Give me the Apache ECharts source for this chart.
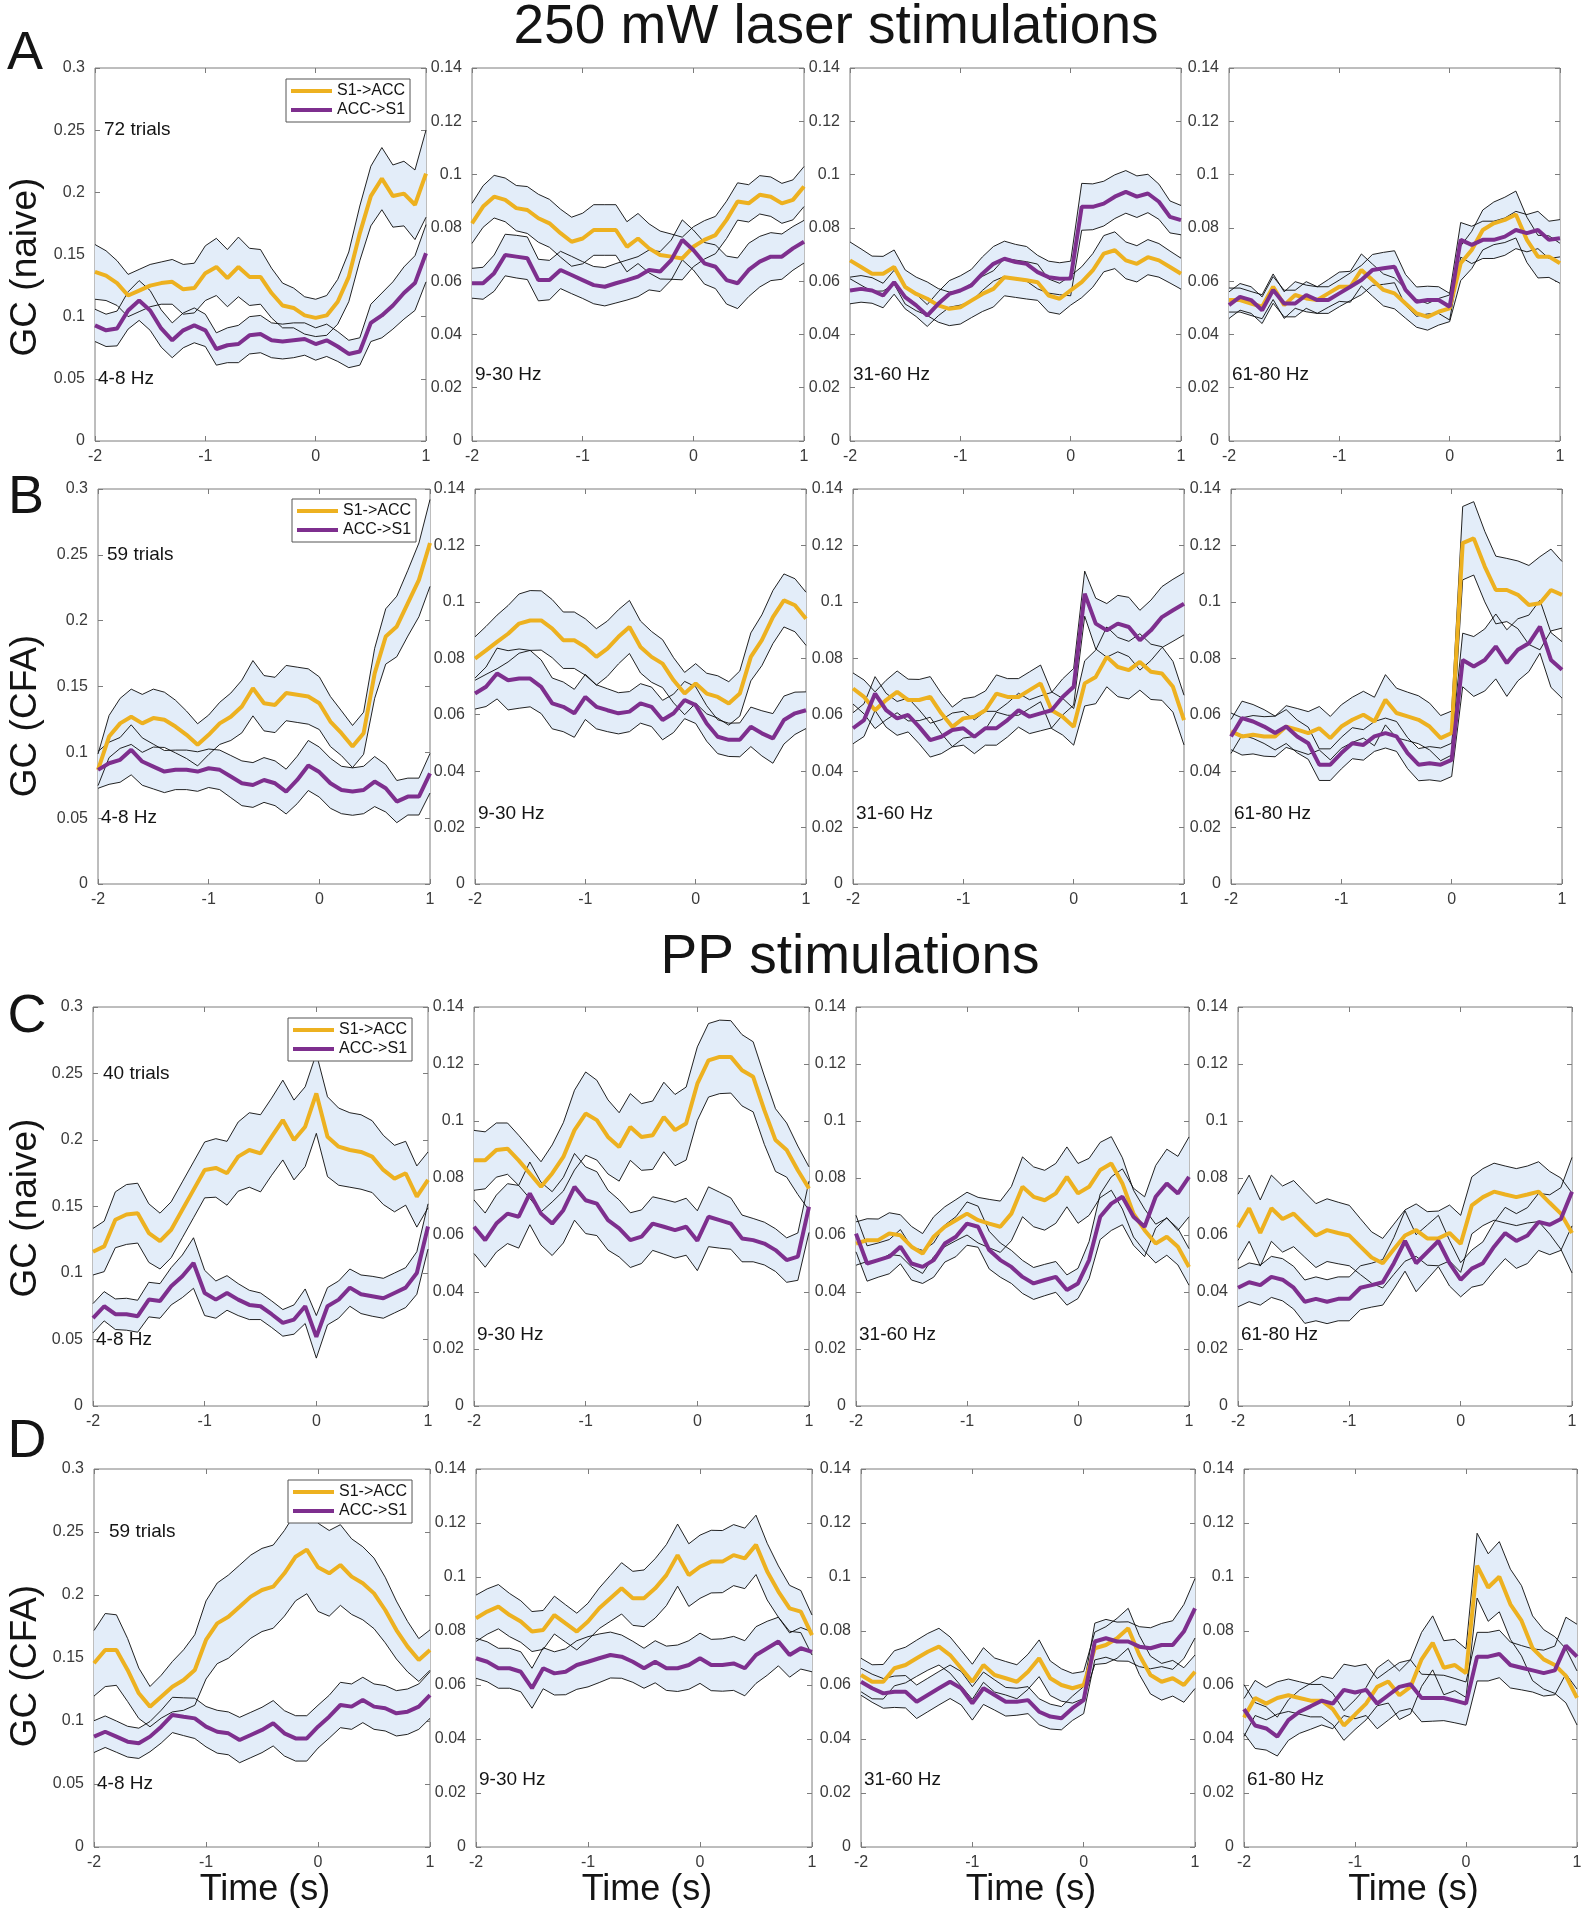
<!DOCTYPE html>
<html>
<head>
<meta charset="utf-8">
<script src="https://cdn.jsdelivr.net/npm/echarts@6/dist/echarts.min.js"></script>
<style>
  html, body { margin: 0; padding: 0; background: #fff; }
  #chart { width: 1588px; height: 1920px; }
  #err { position: absolute; left: 10px; top: 10px; font: 14px monospace; color: red; white-space: pre-wrap; width: 1500px; }
</style>
</head>
<body>
<div id="chart"></div>
<div id="err"></div>
<script>
// time axis (s)
var times = [-2,-1.9,-1.8,-1.7,-1.6,-1.5,-1.4,-1.3,-1.2,-1.1,-1,-0.9,-0.8,-0.7,-0.6,-0.5,-0.4,-0.3,-0.2,-0.1,0,0.1,0.2,0.3,0.4,0.5,0.6,0.7,0.8,0.9,1];

// ---- A: 250 mW laser, naive ----
var a1S1 = [0.136,0.133,0.127,0.117,0.121,0.125,0.127,0.128,0.122,0.123,0.135,0.140,0.131,0.140,0.132,0.132,0.119,0.109,0.107,0.101,0.099,0.101,0.112,0.132,0.167,0.197,0.211,0.197,0.199,0.190,0.215];
var a1S1Sem = [.022,.020,.018,.017,.017,.017,.017,.018,.020,.020,.022,.023,.023,.024,.023,.022,.020,.018,.016,.015,.015,.016,.018,.020,.022,.024,.025,.025,.026,.028,.035];
var a1Acc = [0.093,0.089,0.0905,0.105,0.113,0.105,0.0905,0.081,0.089,0.093,0.089,0.074,0.077,0.078,0.085,0.086,0.081,0.080,0.081,0.082,0.078,0.081,0.076,0.070,0.072,0.095,0.101,0.109,0.119,0.127,0.151];
var a1AccSem = [.013,.013,.014,.015,.016,.016,.015,.014,.014,.014,.013,.013,.014,.015,.015,.015,.014,.014,.014,.013,.013,.013,.012,.011,.011,.015,.018,.019,.021,.022,.023];

var a2S1 = [0.0817,0.088,0.0917,0.0905,0.0874,0.0867,0.0836,0.0817,0.078,0.0748,0.076,0.0792,0.0792,0.0792,0.0729,0.076,0.0723,0.0698,0.0692,0.0685,0.0729,0.0755,0.0773,0.083,0.0899,0.0892,0.0924,0.0917,0.0892,0.0905,0.0955];
var a2S1Sem = [.0075,.0078,.008,.0082,.0085,.0088,.009,.009,.009,.0092,.0095,.0095,.0095,.0095,.0094,.0094,.0092,.009,.0085,.008,.0075,.0072,.007,.007,.007,.007,.0072,.0074,.0075,.0075,.0075];
var a2Acc = [0.0592,0.0592,0.063,0.0698,0.0692,0.0686,0.0604,0.0604,0.0642,0.0623,0.0604,0.0585,0.0579,0.0592,0.0604,0.0617,0.0642,0.0636,0.0679,0.0755,0.0717,0.0667,0.0654,0.0604,0.0592,0.0642,0.0673,0.0692,0.0692,0.0723,0.0748];
var a2AccSem = [.0056,.006,.0068,.0078,.008,.008,.0078,.0074,.007,.007,.0069,.007,.0072,.0074,.0075,.0075,.0075,.0075,.0075,.0075,.0075,.0078,.0082,.009,.0095,.01,.0095,.009,.0085,.0082,.008];

var a3S1 = [0.0678,0.0653,0.0628,0.0628,0.0653,0.0578,0.0552,0.0534,0.0509,0.0496,0.0502,0.0527,0.0552,0.0571,0.0615,0.0609,0.0603,0.0596,0.0546,0.0534,0.0565,0.0596,0.064,0.0703,0.0716,0.0678,0.0665,0.069,0.0678,0.0653,0.0628];
var a3S1Sem = [.0069,.0068,.0066,.0065,.0064,.0064,.0063,.0063,.0063,.0063,.0063,.0064,.0066,.0068,.007,.007,.007,.0068,.0062,.0058,.0055,.0058,.0063,.0068,.0069,.0069,.0068,.0066,.0063,.006,.0058];
var a3Acc = [0.0565,0.0571,0.0565,0.0546,0.0596,0.054,0.0509,0.0471,0.0515,0.0552,0.0565,0.0584,0.0628,0.0665,0.0684,0.0672,0.0665,0.0634,0.0615,0.0609,0.061,0.0879,0.0879,0.0891,0.0917,0.0935,0.0917,0.0929,0.0898,0.0841,0.0829];
var a3AccSem = [.005,.005,.0048,.0046,.0045,.0044,.0042,.0041,.0045,.005,.0055,.006,.0063,.0065,.0066,.0066,.0065,.0063,.006,.006,.0065,.0088,.0086,.0084,.0082,.008,.0078,.0072,.0066,.006,.0055];

var a4S1 = [0.0529,0.0529,0.0516,0.0504,0.0579,0.051,0.0548,0.0535,0.0529,0.0554,0.0579,0.0579,0.0642,0.0604,0.0567,0.0554,0.0516,0.0479,0.0466,0.0485,0.0498,0.0667,0.0717,0.0792,0.0817,0.083,0.085,0.0755,0.0692,0.0692,0.0667];
var a4S1Sem = [.0045,.0045,.0045,.0045,.0048,.005,.005,.005,.005,.0052,.0055,.0058,.006,.006,.006,.0058,.0055,.0052,.005,.005,.005,.0065,.007,.0075,.008,.0085,.0088,.0085,.008,.0078,.0075];
var a4Acc = [0.051,0.0541,0.0529,0.0491,0.0567,0.0516,0.0516,0.0548,0.0529,0.0529,0.0554,0.0579,0.0604,0.0642,0.0648,0.0654,0.0567,0.0523,0.0529,0.0529,0.0504,0.0755,0.0736,0.0755,0.0755,0.0767,0.0792,0.078,0.0792,0.0755,0.0761];
var a4AccSem = [.005,.005,.005,.005,.005,.005,.005,.005,.005,.005,.005,.0052,.0055,.0058,.006,.006,.0058,.0055,.0052,.005,.005,.0065,.007,.007,.007,.007,.007,.007,.007,.007,.007];

// ---- B: 250 mW laser, CFA ----
var b1S1 = [0.0867,0.112,0.122,0.127,0.122,0.126,0.1247,0.1196,0.1133,0.1057,0.1133,0.122,0.127,0.1348,0.1487,0.1373,0.136,0.145,0.1437,0.1424,0.1373,0.1234,0.1145,0.1044,0.1145,0.160,0.188,0.1956,0.2133,0.231,0.259];
var b1S1Sem = [.012,.016,.019,.021,.022,.022,.021,.02,.018,.016,.015,.016,.018,.02,.021,.021,.021,.021,.021,.021,.02,.019,.017,.016,.016,.019,.021,.023,.025,.028,.033];
var b1Acc = [0.0867,0.0917,0.0943,0.1019,0.093,0.0892,0.0854,0.0867,0.0867,0.0854,0.0879,0.0867,0.0816,0.0765,0.0752,0.079,0.0765,0.0702,0.079,0.090,0.085,0.0765,0.0714,0.0702,0.0714,0.0778,0.0727,0.0626,0.0664,0.0664,0.0841];
var b1AccSem = [.014,.016,.017,.019,.018,.017,.016,.015,.015,.015,.0146,.015,.016,.017,.017,.017,.017,.017,.018,.019,.019,.019,.018,.018,.018,.019,.018,.016,.014,.014,.015];

var b2S1 = [0.0799,0.0828,0.0858,0.0887,0.0923,0.0934,0.0934,0.0905,0.0864,0.0864,0.084,0.0805,0.0834,0.0876,0.0911,0.084,0.0805,0.0781,0.0722,0.0675,0.0711,0.0675,0.0663,0.064,0.0675,0.0805,0.0864,0.0946,0.1005,0.0988,0.094];
var b2S1Sem = [.0077,.0085,.0095,.01,.0105,.0106,.0105,.0103,.01,.01,.01,.01,.0098,.0096,.0094,.0092,.009,.0085,.008,.0075,.007,.0072,.0075,.0077,.008,.0085,.009,.0094,.0094,.0094,.0094];
var b2Acc = [0.0675,0.0699,0.0746,0.0722,0.0728,0.0728,0.0699,0.064,0.0628,0.0605,0.0663,0.0628,0.0616,0.0605,0.0611,0.064,0.0628,0.0581,0.0605,0.0652,0.0634,0.0569,0.0522,0.0511,0.0511,0.0557,0.0534,0.0516,0.0581,0.0605,0.0616];
var b2AccSem = [.0055,.007,.009,.0105,.0105,.01,.0095,.009,.0088,.0085,.008,.0078,.0076,.0073,.0071,.007,.007,.007,.0068,.0066,.0065,.0063,.006,.0059,.006,.007,.008,.0088,.0085,.0075,.0065];

var b3S1 = [0.0693,0.0663,0.0616,0.0652,0.0681,0.0652,0.0652,0.0663,0.0605,0.0557,0.0587,0.0593,0.0616,0.0675,0.0663,0.0663,0.0687,0.0711,0.0616,0.0593,0.0557,0.0711,0.0734,0.0805,0.0769,0.0758,0.0787,0.0752,0.0746,0.0699,0.0581];
var b3S1Sem = [.0055,.006,.0065,.007,.0074,.0074,.0073,.0072,.0071,.007,.007,.007,.0068,.0066,.0065,.0065,.0065,.0065,.0065,.0065,.0065,.008,.0095,.0106,.0105,.0102,.01,.0098,.0095,.009,.0088];
var b3Acc = [0.0552,0.0581,0.0675,0.0616,0.0587,0.0599,0.0557,0.051,0.0522,0.0546,0.0552,0.0522,0.0552,0.0552,0.0581,0.0616,0.0593,0.0605,0.0616,0.0663,0.0699,0.1029,0.0923,0.0899,0.0923,0.0911,0.0864,0.0899,0.0946,0.097,0.0993];
var b3AccSem = [.0055,.0058,.006,.006,.006,.006,.006,.006,.006,.006,.006,.006,.006,.006,.006,.006,.006,.0062,.0063,.0064,.0065,.008,.009,.0095,.01,.0105,.0106,.0107,.0108,.011,.011];

var b4S1 = [0.0541,0.0523,0.0529,0.0523,0.0523,0.0558,0.0547,0.0535,0.0552,0.0517,0.0558,0.0582,0.06,0.0576,0.0653,0.0606,0.0594,0.0582,0.0558,0.0517,0.0535,0.1208,0.1225,0.1125,0.1042,0.1042,0.1025,0.0989,0.0995,0.1042,0.1025];
var b4S1Sem = [.0065,.0066,.0068,.007,.0072,.0074,.0075,.0076,.0077,.0077,.0077,.008,.0083,.0086,.0089,.0088,.0086,.0085,.0083,.008,.0078,.013,.013,.0125,.012,.0112,.012,.014,.0165,.0145,.0118];
var b4Acc = [0.0523,0.0588,0.0576,0.0558,0.0535,0.0558,0.0523,0.0499,0.0423,0.0423,0.0464,0.0499,0.0493,0.0523,0.0535,0.0523,0.0464,0.0423,0.0428,0.0423,0.044,0.0794,0.0771,0.0794,0.0842,0.0783,0.083,0.0853,0.0912,0.0794,0.0759];
var b4AccSem = [.006,.006,.006,.006,.006,.006,.0058,.0057,.0056,.0056,.0056,.0055,.0054,.0053,.0053,.0053,.0055,.0057,.0059,.0059,.0059,.0095,.0106,.011,.0115,.0118,.011,.01,.0094,.0097,.01];

// ---- C: PP, naive ----
var c1S1 = [0.116,0.12,0.14,0.144,0.145,0.13,0.124,0.1325,0.1475,0.1625,0.1775,0.179,0.175,0.1875,0.1925,0.19,0.2025,0.215,0.2,0.21,0.235,0.2025,0.195,0.1925,0.191,0.1875,0.1775,0.171,0.175,0.1575,0.17];
var c1S1Sem = [.0175,.019,.021,.0225,.0225,.022,.021,.021,.021,.021,.021,.022,.024,.026,.028,.029,.029,.03,.03,.03,.03,.03,.029,.028,.028,.027,.026,.025,.024,.023,.021];
var c1Acc = [0.066,0.075,0.069,0.069,0.0675,0.08,0.079,0.09,0.0975,0.1075,0.085,0.08,0.085,0.08,0.076,0.075,0.069,0.0625,0.065,0.075,0.052,0.075,0.08,0.089,0.084,0.0825,0.081,0.085,0.089,0.1,0.135];
var c1AccSem = [.011,.011,.0115,.012,.012,.013,.013,.014,.016,.019,.017,.014,.013,.012,.011,.01,.01,.01,.011,.013,.016,.014,.014,.014,.0145,.015,.015,.015,.015,.016,.017];

var c2S1 = [0.0862,0.0862,0.0898,0.0903,0.0862,0.0816,0.0769,0.0816,0.0874,0.0968,0.1026,0.1003,0.0944,0.0909,0.0979,0.0944,0.095,0.1014,0.0968,0.0991,0.1131,0.1213,0.1225,0.1225,0.1178,0.1155,0.1038,0.0933,0.0898,0.0827,0.0763];
var c2S1Sem = [.0105,.01,.0095,.009,.0088,.0088,.0088,.01,.012,.014,.0146,.014,.013,.012,.0117,.0117,.012,.0122,.0125,.0128,.0129,.0129,.0129,.0127,.0125,.0123,.012,.011,.0095,.0085,.0076];
var c2Acc = [0.0629,0.0582,0.064,0.0675,0.0664,0.0746,0.0675,0.064,0.0687,0.0769,0.0722,0.071,0.0652,0.0623,0.0582,0.0594,0.064,0.0629,0.0617,0.0629,0.058,0.0664,0.0652,0.064,0.0588,0.0582,0.057,0.0547,0.0512,0.0524,0.0699];
var c2AccSem = [.0094,.0095,.01,.0105,.011,.011,.011,.0112,.0115,.0117,.0117,.0112,.0105,.01,.0096,.0094,.0094,.0096,.0098,.01,.0105,.0105,.0098,.009,.0082,.0076,.0075,.0075,.0078,.0083,.009];

var c3S1 = [0.057,0.0582,0.0582,0.0605,0.0599,0.0559,0.0535,0.0594,0.0629,0.0652,0.0675,0.0652,0.064,0.0629,0.0675,0.0769,0.0734,0.0722,0.0746,0.0804,0.0746,0.0769,0.0828,0.0851,0.0781,0.0675,0.0617,0.057,0.0594,0.0559,0.0488];
var c3S1Sem = [.0076,.0075,.0074,.0073,.0072,.0071,.007,.007,.007,.0072,.0075,.008,.0085,.009,.0095,.0105,.0105,.0105,.0105,.0105,.0105,.01,.0097,.0094,.009,.0082,.0074,.0068,.0065,.0064,.0064];
var c3Acc = [0.0605,0.05,0.0512,0.0524,0.0559,0.05,0.0488,0.0512,0.057,0.0594,0.064,0.0629,0.0547,0.0512,0.0488,0.0453,0.043,0.0442,0.0453,0.0407,0.043,0.0512,0.0664,0.071,0.0734,0.0664,0.0629,0.0734,0.0781,0.0746,0.0804];
var c3AccSem = [.0064,.0062,.006,.006,.006,.0058,.0058,.006,.0065,.007,.0076,.0072,.0066,.006,.0058,.0058,.0056,.0055,.0054,.0053,.0053,.0065,.008,.0094,.0098,.01,.0105,.011,.012,.013,.014];

var c4S1 = [0.0627,0.0694,0.0607,0.0694,0.0656,0.0675,0.0636,0.0598,0.0617,0.0607,0.0598,0.0559,0.0521,0.0501,0.055,0.0598,0.0617,0.0588,0.0588,0.0607,0.0569,0.0704,0.0733,0.0752,0.0742,0.0733,0.0742,0.0752,0.0713,0.0675,0.0607];
var c4S1Sem = [.0116,.0116,.0116,.0116,.0116,.0116,.0114,.0112,.011,.0108,.0106,.0098,.009,.0087,.0088,.009,.0092,.0094,.0096,.0098,.01,.01,.01,.01,.01,.01,.01,.0105,.011,.0125,.014];
var c4Acc = [0.0415,0.0434,0.0424,0.0453,0.0443,0.0415,0.0366,0.0376,0.0366,0.0376,0.0376,0.0415,0.0424,0.0434,0.0501,0.0579,0.0501,0.054,0.0579,0.0501,0.0443,0.0482,0.0501,0.0559,0.0607,0.0579,0.0598,0.0646,0.0636,0.0656,0.0752];
var c4AccSem = [.0067,.0068,.007,.0072,.0074,.0075,.0076,.0077,.0077,.0077,.0077,.0077,.0077,.008,.009,.0106,.01,.0095,.009,.008,.006,.0065,.0075,.0085,.009,.0096,.0098,.01,.0105,.011,.012];

// ---- D: PP, CFA ----
var d1S1 = [0.1458,0.1563,0.1563,0.1405,0.122,0.1114,0.1193,0.1272,0.1325,0.1405,0.1643,0.1775,0.1828,0.1907,0.1987,0.204,0.2066,0.2172,0.2304,0.236,0.222,0.2172,0.2238,0.2146,0.2093,0.2013,0.1881,0.1722,0.159,0.1484,0.1563];
var d1S1Sem = [.026,.029,.028,.025,.02,.016,.017,.02,.024,.028,.031,.032,.033,.033,.033,.033,.033,.034,.035,.035,.035,.034,.032,.03,.029,.028,.026,.023,.02,.017,.016];
var d1Acc = [0.0876,0.0915,0.0876,0.0836,0.0823,0.0876,0.0955,0.1048,0.1034,0.1021,0.0955,0.0915,0.0902,0.0849,0.0889,0.0929,0.0982,0.0902,0.0862,0.0862,0.0955,0.1034,0.1127,0.1114,0.1167,0.1114,0.1101,0.1061,0.1074,0.1114,0.1206];
var d1AccSem = [.0126,.0125,.0124,.0122,.012,.012,.013,.014,.015,.016,.016,.017,.017,.018,.018,.018,.018,.018,.018,.018,.017,.017,.018,.018,.018,.018,.018,.018,.018,.018,.0185];

var d2S1 = [0.0847,0.0872,0.089,0.0859,0.0835,0.0798,0.0804,0.0859,0.0828,0.0798,0.0835,0.0884,0.0921,0.0958,0.0921,0.0921,0.0958,0.1007,0.1081,0.1007,0.1038,0.1057,0.1057,0.1081,0.1069,0.1119,0.102,0.0946,0.0884,0.0872,0.0785];
var d2S1Sem = [.0086,.0084,.0082,.008,.0077,.0074,.0072,.007,.0069,.0068,.0068,.0075,.0085,.0095,.01,.0105,.011,.0113,.0115,.0116,.0117,.0116,.0115,.0113,.0112,.011,.0105,.0095,.0085,.0078,.0074];
var d2Acc = [0.0699,0.0686,0.0662,0.0662,0.0649,0.0588,0.0662,0.0643,0.0649,0.0674,0.0686,0.0699,0.0711,0.0705,0.0686,0.0662,0.0686,0.0662,0.0662,0.0674,0.0699,0.0674,0.0674,0.068,0.0662,0.0711,0.0736,0.0761,0.0711,0.0736,0.0723];
var d2AccSem = [.0074,.0074,.0074,.0074,.0074,.0074,.0076,.008,.0085,.009,.0093,.009,.0085,.008,.0076,.0074,.0078,.0082,.0086,.009,.0093,.0095,.0097,.01,.0102,.0105,.01,.009,.0082,.0077,.0074];

var d3S1 = [0.0637,0.0612,0.0612,0.0662,0.0674,0.0699,0.0723,0.0742,0.0711,0.0662,0.0612,0.0674,0.0637,0.0625,0.0612,0.0649,0.0699,0.0625,0.06,0.0588,0.06,0.0736,0.0748,0.0773,0.081,0.0711,0.0637,0.0612,0.0625,0.06,0.0649];
var d3S1Sem = [.0062,.0063,.0064,.0065,.0066,.0067,.0068,.0068,.0067,.0066,.0065,.0064,.0063,.0062,.0063,.0065,.0068,.0064,.006,.0055,.005,.006,.0068,.0074,.0074,.0072,.007,.0068,.0066,.0064,.0062];
var d3Acc = [0.0612,0.0588,0.0569,0.0575,0.0575,0.0538,0.0563,0.0588,0.0612,0.0588,0.0532,0.0588,0.0563,0.0538,0.0538,0.0544,0.0501,0.0483,0.0477,0.0514,0.0544,0.0761,0.0773,0.0761,0.0761,0.0742,0.0736,0.0748,0.0748,0.0798,0.0884];
var d3AccSem = [.005,.0052,.0055,.0058,.006,.0062,.0062,.0062,.0062,.0062,.0062,.006,.0056,.0053,.005,.005,.0048,.0046,.0043,.0045,.005,.0068,.007,.0072,.0073,.0074,.0076,.008,.009,.01,.011];

var d4S1 = [0.048,0.0552,0.0531,0.0552,0.0562,0.0552,0.0542,0.0542,0.0511,0.045,0.049,0.0531,0.0593,0.0613,0.0562,0.0593,0.0695,0.0756,0.0664,0.0674,0.0644,0.1042,0.0961,0.1001,0.0899,0.0838,0.0736,0.0695,0.0674,0.0634,0.0552];
var d4S1Sem = [.007,.0065,.006,.006,.006,.006,.006,.006,.0058,.0055,.0055,.006,.007,.008,.009,.01,.01,.01,.01,.0095,.009,.012,.0125,.013,.013,.013,.012,.011,.0105,.01,.01];
var d4Acc = [0.0511,0.045,0.0439,0.0409,0.047,0.0501,0.0521,0.0542,0.0531,0.0582,0.0572,0.0582,0.0531,0.0562,0.0593,0.0603,0.0552,0.0552,0.0552,0.0542,0.0531,0.0705,0.0705,0.0715,0.0674,0.0664,0.0654,0.0644,0.0654,0.0746,0.0705];
var d4AccSem = [.009,.0085,.008,.0072,.0075,.008,.0085,.009,.0093,.0095,.0097,.0095,.0093,.0092,.009,.009,.0088,.0086,.0084,.0082,.008,.009,.009,.0088,.0085,.0082,.008,.0085,.009,.0105,.012];

var bandNames = ['4-8 Hz', '9-30 Hz', '31-60 Hz', '61-80 Hz'];
var rowTitles = ['GC (naive)', 'GC (CFA)', 'GC (naive)', 'GC (CFA)'];
var rowLetters = ['A', 'B', 'C', 'D'];
var trialLabels = ['72 trials', '59 trials', '40 trials', '59 trials'];
var seriesNames = ['S1->ACC', 'ACC->S1'];

var FONT = '"Liberation Sans", Arial, Helvetica, sans-serif';
var YELLOW = '#EDB120', PURPLE = '#7E2F8E', BAND = '#E3EDF9', EDGE = '#0a0a0a', AXIS = '#7c7c7c';

// panel boxes in px
var rowTop = [68, 489, 1007, 1469];
var rowBottom = [441, 884, 1406, 1847];
var colBox = [
  [[95, 426], [472, 804], [850, 1181], [1229, 1560]],
  [[98, 430], [475, 806], [853, 1184], [1231, 1562]],
  [[93, 428], [474, 809], [856, 1189], [1238, 1572]],
  [[94, 430], [476, 812], [861, 1195], [1244, 1577]]
];
var legendBox = [[286, 79], [292, 499], [288, 1018], [288, 1480]];
var trialDx = [9, 9, 10, 15];

var panelData = [
  [[a1S1, a1S1Sem, a1Acc, a1AccSem], [a2S1, a2S1Sem, a2Acc, a2AccSem], [a3S1, a3S1Sem, a3Acc, a3AccSem], [a4S1, a4S1Sem, a4Acc, a4AccSem]],
  [[b1S1, b1S1Sem, b1Acc, b1AccSem], [b2S1, b2S1Sem, b2Acc, b2AccSem], [b3S1, b3S1Sem, b3Acc, b3AccSem], [b4S1, b4S1Sem, b4Acc, b4AccSem]],
  [[c1S1, c1S1Sem, c1Acc, c1AccSem], [c2S1, c2S1Sem, c2Acc, c2AccSem], [c3S1, c3S1Sem, c3Acc, c3AccSem], [c4S1, c4S1Sem, c4Acc, c4AccSem]],
  [[d1S1, d1S1Sem, d1Acc, d1AccSem], [d2S1, d2S1Sem, d2Acc, d2AccSem], [d3S1, d3S1Sem, d3Acc, d3AccSem], [d4S1, d4S1Sem, d4Acc, d4AccSem]]
];

function fmt(v) { return String(parseFloat(Number(v).toFixed(4))); }

function txt(x, y, s, size, align, rot) {
  return {
    type: 'text', x: x, y: y, rotation: rot || 0, z: 50,
    style: {
      text: s, fill: '#141414', font: size + 'px ' + FONT,
      align: align || 'center', verticalAlign: 'middle'
    }
  };
}

// band polygon between lo and hi, drawn once per series
function bandRenderer(lo, hi) {
  return function (params, api) {
    if (params.dataIndex !== 0) return null;
    var pts = [];
    for (var i = 0; i < times.length; i++) pts.push(api.coord([times[i], hi[i]]));
    for (var j = times.length - 1; j >= 0; j--) pts.push(api.coord([times[j], lo[j]]));
    return { type: 'polygon', shape: { points: pts }, style: { fill: BAND }, silent: true };
  };
}

function build() {
  var grids = [], xAxes = [], yAxes = [], series = [], legends = [], graphics = [];
  var idx = 0;
  for (var r = 0; r < 4; r++) {
    for (var c = 0; c < 4; c++) {
      var box = colBox[r][c];
      var top = rowTop[r], h = rowBottom[r] - rowTop[r], w = box[1] - box[0];
      var ymax = c === 0 ? 0.3 : 0.14, ystep = c === 0 ? 0.05 : 0.02;
      grids.push({ left: box[0], top: top, width: w, height: h, show: true,
        borderColor: AXIS, borderWidth: 1, backgroundColor: '#fff' });

      var tick = function () { return { inside: true, length: 5, lineStyle: { color: AXIS, width: 1 } }; };
      xAxes.push({ gridIndex: idx, type: 'value', min: -2, max: 1, interval: 1, position: 'bottom',
        axisLine: { show: false, onZero: false }, axisTick: tick(), splitLine: { show: false },
        axisLabel: { margin: 8, fontSize: 16, color: '#3a3a3a', fontFamily: FONT, formatter: fmt } });
      xAxes.push({ gridIndex: idx, type: 'value', min: -2, max: 1, interval: 1, position: 'top',
        axisLine: { show: false, onZero: false }, axisTick: tick(), splitLine: { show: false },
        axisLabel: { show: false } });
      yAxes.push({ gridIndex: idx, type: 'value', min: 0, max: ymax, interval: ystep, position: 'left',
        axisLine: { show: false, onZero: false }, axisTick: tick(), splitLine: { show: false },
        axisLabel: { margin: 10, fontSize: 16, color: '#3a3a3a', fontFamily: FONT, formatter: fmt } });
      yAxes.push({ gridIndex: idx, type: 'value', min: 0, max: ymax, interval: ystep, position: 'right',
        axisLine: { show: false, onZero: false }, axisTick: tick(), splitLine: { show: false },
        axisLabel: { show: false } });

      var d = panelData[r][c];
      for (var k = 0; k < 2; k++) {
        var mean = d[2 * k], sem = d[2 * k + 1];
        var col = k === 0 ? YELLOW : PURPLE;
        var lo = mean.map(function (m, i) { return m - sem[i]; });
        var hi = mean.map(function (m, i) { return m + sem[i]; });
        series.push({ type: 'custom', name: 'band', xAxisIndex: 2 * idx, yAxisIndex: 2 * idx,
          data: times.map(function (t, i) { return [t, lo[i], hi[i]]; }),
          encode: { x: 0, y: [1, 2] }, renderItem: bandRenderer(lo, hi), silent: true, z: 1 });
        series.push({ type: 'line', name: 'lo', xAxisIndex: 2 * idx, yAxisIndex: 2 * idx, symbol: 'none', silent: true,
          data: times.map(function (t, i) { return [t, lo[i]]; }),
          lineStyle: { color: EDGE, width: 0.9 }, z: 3 });
        series.push({ type: 'line', name: 'hi', xAxisIndex: 2 * idx, yAxisIndex: 2 * idx, symbol: 'none', silent: true,
          data: times.map(function (t, i) { return [t, hi[i]]; }),
          lineStyle: { color: EDGE, width: 0.9 }, z: 3 });
        series.push({ type: 'line', name: seriesNames[k], xAxisIndex: 2 * idx, yAxisIndex: 2 * idx, symbol: 'none', silent: true,
          data: times.map(function (t, i) { return [t, mean[i]]; }),
          lineStyle: { color: col, width: 4 }, itemStyle: { color: col }, z: 4 + k });
      }

      var yAt = top + h * (1 - (c === 0 ? 0.05 : 0.025) / ymax);
      graphics.push(txt(box[0] + 3, yAt, bandNames[c], 19, 'left'));
      if (c === 0) {
        graphics.push(txt(box[0] + trialDx[r], top + h * (1 - 0.25 / ymax), trialLabels[r], 19, 'left'));
      }
      if (r === 3) {
        graphics.push(txt((box[0] + box[1]) / 2 + 3, 1890, 'Time (s)', 36, 'center'));
      }
      idx++;
    }
    legends.push({
      left: legendBox[r][0], top: legendBox[r][1], orient: 'vertical', z: 30,
      data: seriesNames.slice(), icon: 'rect', itemWidth: 41, itemHeight: 4, itemGap: 3,
      padding: [4, 5, 4, 5], borderColor: '#555', borderWidth: 1, backgroundColor: '#fff',
      selectedMode: false, textStyle: { fontSize: 16, color: '#141414', fontFamily: FONT }
    });
  }

  graphics.push(txt(836, 28, '250 mW laser stimulations', 55, 'center'));
  graphics.push(txt(850, 958, 'PP stimulations', 55, 'center'));
  var letterPos = [[25, 54], [26, 498], [27, 1017], [27, 1442]];
  var ytitleY = [267, 716, 1208, 1666];
  for (var j = 0; j < 4; j++) {
    graphics.push(txt(letterPos[j][0], letterPos[j][1], rowLetters[j], 54, 'center'));
    graphics.push(txt(26, ytitleY[j], rowTitles[j], 37, 'center', Math.PI / 2));
  }
  return { grids: grids, xAxes: xAxes, yAxes: yAxes, series: series, legends: legends, graphics: graphics };
}

try {
  var o = build();
  var chart = echarts.init(document.getElementById('chart'));
  chart.setOption({
    animation: false,
    backgroundColor: '#fff',
    grid: o.grids,
    xAxis: o.xAxes,
    yAxis: o.yAxes,
    legend: o.legends,
    series: o.series
  });
  chart.setOption({ graphic: { elements: o.graphics } });
} catch (e) {
  document.getElementById('err').textContent = String(e) + '\n' + (e.stack || '');
}
</script>
</body>
</html>
